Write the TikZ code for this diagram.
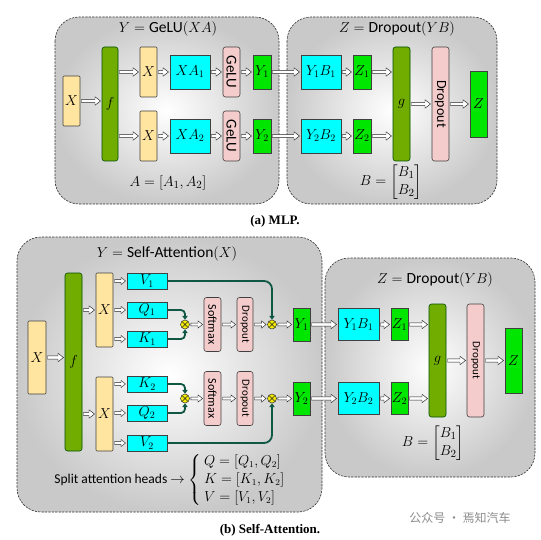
\documentclass[tikz,border=0pt]{standalone}
\usepackage{amsmath}
\usepackage{graphicx}
\usepackage[no-math]{fontspec}
\setmainfont{Carlito}
\newfontfamily\capfont{Liberation Serif}
\newfontfamily\cjk{Noto Sans CJK SC}
\usetikzlibrary{calc,arrows.meta}
\definecolor{xfill}{RGB}{255,229,160}
\definecolor{ffill}{RGB}{112,173,0}
\definecolor{cfill}{RGB}{0,255,255}
\definecolor{pfill}{RGB}{244,204,204}
\definecolor{yfill}{RGB}{0,230,0}
\definecolor{tconn}{RGB}{16,88,68}
\definecolor{mfill}{RGB}{245,235,0}
\tikzset{
  box/.style={draw=black!75, line width=0.6pt, inner sep=0pt, font=\fontsize{14.5}{16}\selectfont},
  xb/.style={box, fill=xfill, rounded corners=1pt},
  fb/.style={box, fill=ffill, draw=black!70!green, rounded corners=2.5pt},
  cb/.style={box, fill=cfill},
  pb/.style={box, fill=pfill, rounded corners=2.5pt},
  gb/.style={box, fill=yfill},
  panel/.style={draw=black!80, dashed, dash pattern=on 2.2pt off 1.2pt, line width=0.6pt, rounded corners=24pt, inner color=white, outer color=black!21},
  ttl/.style={inner sep=0pt, font=\fontsize{15.5}{18}\selectfont},
  harrow/.style n args={3}{draw=black!85, fill=white, line width=0.45pt,
    to path={let \p1=(\tikztostart), \p2=(\tikztotarget) in
      (\x1+1.2pt,\y1+#1) -- (\x2-#3-1.2pt,\y1+#1) -- (\x2-#3-1.2pt,\y1+#2) -- (\x2-1.2pt,\y1)
      -- (\x2-#3-1.2pt,\y1-#2) -- (\x2-#3-1.2pt,\y1-#1) -- (\x1+1.2pt,\y1-#1) -- cycle}},
  ha/.style={harrow={1.6pt}{4.2pt}{5.5pt}},
  hb/.style={harrow={1.3pt}{3.6pt}{4.5pt}},
  tc/.style={draw=tconn, line width=1.8pt, -{Triangle[length=3.8pt,width=5.2pt]}},
  mult/.style={circle, draw=black!80, fill=mfill, minimum size=9pt, inner sep=0pt, line width=0.5pt,
    path picture={\draw[line width=0.6pt, black!85]
      ([shift={(-3.2pt,-3.2pt)}]path picture bounding box.center) -- ([shift={(3.2pt,3.2pt)}]path picture bounding box.center)
      ([shift={(-3.2pt,3.2pt)}]path picture bounding box.center) -- ([shift={(3.2pt,-3.2pt)}]path picture bounding box.center);}},
  captext/.style={inner sep=0pt, font=\capfont\bfseries\fontsize{13}{15}\selectfont},
  sb/.style={font=\fontsize{14}{15}\selectfont},
}
\begin{document}
\begin{tikzpicture}[x=1pt,y=-1pt]
\useasboundingbox (0,0) rectangle (540,540);
\fill[white] (0,0) rectangle (540,540);
% ===== (a) MLP =====
\shadedraw[panel] (55,17) rectangle (279,204);
\shadedraw[panel] (287,17) rectangle (497,204);
\node[ttl] (ta1) at (168,29) {$Y=\text{GeLU}(XA)$};
\node[ttl] (ta2) at (168,183) {$A=[A_1,A_2]$};
\node[ttl] (ta3) at (397,29) {$Z=\text{Dropout}(YB)$};
\node[ttl] (ta4) at (391,182) {$B=\begin{bmatrix}B_1\\B_2\end{bmatrix}$};

\node[xb, minimum width=17pt, minimum height=50pt] (ax0) at (71.5,101) {$X$};
\node[fb, minimum width=16pt, minimum height=114pt] (af) at (110,104) {$f$};
\node[xb, minimum width=17pt, minimum height=50pt] (ax1) at (148.5,72) {$X$};
\node[xb, minimum width=17pt, minimum height=50pt] (ax2) at (148.5,136) {$X$};
\node[cb, minimum width=40pt, minimum height=34pt] (axa1) at (190,72) {$XA_1$};
\node[cb, minimum width=40pt, minimum height=34pt] (axa2) at (190,136) {$XA_2$};
\node[pb, minimum width=17pt, minimum height=50pt, font=\fontsize{15}{17}\selectfont] (agl1) at (231.5,72) {\rotatebox{-90}{GeLU}};
\node[pb, minimum width=17pt, minimum height=50pt, font=\fontsize{15}{17}\selectfont] (agl2) at (231.5,136) {\rotatebox{-90}{GeLU}};
\node[gb, minimum width=18pt, minimum height=34pt] (ay1) at (262,72) {$Y_1$};
\node[gb, minimum width=18pt, minimum height=34pt] (ay2) at (262,136) {$Y_2$};
\node[cb, minimum width=40pt, minimum height=34pt] (ayb1) at (321,72) {$Y_1B_1$};
\node[cb, minimum width=40pt, minimum height=34pt] (ayb2) at (321,136) {$Y_2B_2$};
\node[gb, minimum width=18pt, minimum height=34pt] (az1) at (362,72) {$Z_1$};
\node[gb, minimum width=18pt, minimum height=34pt] (az2) at (362,136) {$Z_2$};
\node[fb, minimum width=17pt, minimum height=114pt] (ag) at (401.5,104) {$g$};
\node[pb, minimum width=17pt, minimum height=114pt, font=\fontsize{14}{16}\selectfont] (adr) at (440.5,104) {\rotatebox{-90}{Dropout}};
\node[gb, minimum width=17pt, minimum height=66pt] (az) at (478.5,104) {$Z$};

\draw[ha] (ax0.east) to (af.west);
\draw[ha] (af.east |- ax1) to (ax1.west);
\draw[ha] (af.east |- ax2) to (ax2.west);
\draw[ha] (ax1.east) to (axa1.west);
\draw[ha] (ax2.east) to (axa2.west);
\draw[ha] (axa1.east) to (agl1.west);
\draw[ha] (axa2.east) to (agl2.west);
\draw[ha] (agl1.east) to (ay1.west);
\draw[ha] (agl2.east) to (ay2.west);
\draw[ha] (ay1.east) to (ayb1.west);
\draw[ha] (ay2.east) to (ayb2.west);
\draw[ha] (ayb1.east) to (az1.west);
\draw[ha] (ayb2.east) to (az2.west);
\draw[ha] (az1.east) to (ag.west);
\draw[ha] (az2.east) to (ag.west);
\draw[ha] (ag.east) to (adr.west);
\draw[ha] (adr.east) to (az.west);

\node[captext] (capa) at (275,221) {(a) MLP.};

% ===== (b) Self-Attention =====
\shadedraw[panel] (17,237) rectangle (322,512);
\shadedraw[panel] (325,258) rectangle (535,477);
\node[ttl] (tb1) at (167,254) {$Y=\text{Self-Attention}(X)$};
\node[ttl] (tb3) at (435,280) {$Z=\text{Dropout}(YB)$};
\node[ttl] (tb4) at (433,443) {$B=\begin{bmatrix}B_1\\B_2\end{bmatrix}$};

\node[xb, minimum width=18pt, minimum height=73pt] (bx0) at (37,357.5) {$X$};
\node[fb, minimum width=17pt, minimum height=178pt] (bf) at (73.5,362) {$f$};
\node[xb, minimum width=17pt, minimum height=74pt] (bx1) at (104.5,310) {$X$};
\node[xb, minimum width=17pt, minimum height=74pt] (bx2) at (104.5,414) {$X$};
\node[cb, sb, minimum width=40pt, minimum height=16pt] (bv1) at (147,281) {$V_1$};
\node[cb, sb, minimum width=40pt, minimum height=16pt] (bq1) at (147,310) {$Q_1$};
\node[cb, sb, minimum width=40pt, minimum height=16pt] (bk1) at (147,339) {$K_1$};
\node[cb, sb, minimum width=40pt, minimum height=16pt] (bk2) at (147,384) {$K_2$};
\node[cb, sb, minimum width=40pt, minimum height=16pt] (bq2) at (147,413) {$Q_2$};
\node[cb, sb, minimum width=40pt, minimum height=16pt] (bv2) at (147,443) {$V_2$};
\node[mult] (m1) at (185,324.5) {};
\node[mult] (m3) at (185,398.5) {};
\node[pb, minimum width=17pt, minimum height=54pt, font=\fontsize{12}{14}\selectfont] (bsm1) at (212.5,324.5) {\rotatebox{-90}{Softmax}};
\node[pb, minimum width=17pt, minimum height=54pt, font=\fontsize{12}{14}\selectfont] (bsm2) at (212.5,398.5) {\rotatebox{-90}{Softmax}};
\node[pb, minimum width=16pt, minimum height=54pt, font=\fontsize{11}{13}\selectfont] (bdr1) at (245,324.5) {\rotatebox{-90}{Dropout}};
\node[pb, minimum width=16pt, minimum height=54pt, font=\fontsize{11}{13}\selectfont] (bdr2) at (245,398.5) {\rotatebox{-90}{Dropout}};
\node[mult] (m2) at (272,324.5) {};
\node[mult] (m4) at (272,398.5) {};
\node[gb, minimum width=17pt, minimum height=33pt] (by1) at (301.5,324.5) {$Y_1$};
\node[gb, minimum width=17pt, minimum height=33pt] (by2) at (301.5,398.5) {$Y_2$};
\node[cb, minimum width=41pt, minimum height=32pt] (byb1) at (358.5,324.5) {$Y_1B_1$};
\node[cb, minimum width=41pt, minimum height=32pt] (byb2) at (358.5,398.5) {$Y_2B_2$};
\node[gb, minimum width=17pt, minimum height=32pt] (bz1) at (399.5,324.5) {$Z_1$};
\node[gb, minimum width=17pt, minimum height=32pt] (bz2) at (399.5,398.5) {$Z_2$};
\node[fb, minimum width=17pt, minimum height=113pt] (bg) at (437.5,360.5) {$g$};
\node[pb, minimum width=17pt, minimum height=113pt, font=\fontsize{11}{13}\selectfont] (bdr) at (475.5,360.5) {\rotatebox{-90}{Dropout}};
\node[gb, minimum width=17pt, minimum height=65pt] (bz) at (513.5,360.5) {$Z$};

\draw[ha] (bx0.east) to (bf.west);
\draw[ha] (bf.east |- bx1) to (bx1.west);
\draw[ha] (bf.east |- bx2) to (bx2.west);
\draw[hb] (bx1.east |- bv1) to (bv1.west);
\draw[hb] (bx1.east |- bq1) to (bq1.west);
\draw[hb] (bx1.east |- bk1) to (bk1.west);
\draw[hb] (bx2.east |- bk2) to (bk2.west);
\draw[hb] (bx2.east |- bq2) to (bq2.west);
\draw[hb] (bx2.east |- bv2) to (bv2.west);
\draw[hb] (m1.east) to (bsm1.west);
\draw[hb] (m3.east) to (bsm2.west);
\draw[hb] (bsm1.east) to (bdr1.west);
\draw[hb] (bsm2.east) to (bdr2.west);
\draw[hb] (bdr1.east) to (m2.west);
\draw[hb] (bdr2.east) to (m4.west);
\draw[hb] (m2.east) to (by1.west);
\draw[hb] (m4.east) to (by2.west);
\draw[ha] (by1.east) to (byb1.west);
\draw[ha] (by2.east) to (byb2.west);
\draw[ha] (byb1.east) to (bz1.west);
\draw[ha] (byb2.east) to (bz2.west);
\draw[ha] (bz1.east) to (bg.west);
\draw[ha] (bz2.east) to (bg.west);
\draw[ha] (bg.east) to (bdr.west);
\draw[ha] (bdr.east) to (bz.west);

\draw[tc, rounded corners=4pt] (bq1.east) -| (m1.north);
\draw[tc, rounded corners=4pt] (bk1.east) -| (m1.south);
\draw[tc, rounded corners=4pt] (bk2.east) -| (m3.north);
\draw[tc, rounded corners=4pt] (bq2.east) -| (m3.south);
\draw[tc, rounded corners=8pt] (bv1.east) -| (m2.north);
\draw[tc, rounded corners=8pt] (bv2.east) -| (m4.south);

\node[inner sep=0pt, font=\fontsize{13.5}{15}\selectfont] (split) at (170,480)
  {Split attention heads $\rightarrow\renewcommand\arraystretch{1.2}\left\{\,\begin{array}{@{}l@{}}Q=[Q_1,Q_2]\\K=[K_1,K_2]\\V=[V_1,V_2]\end{array}\right.$};

\node[captext] (capb) at (270,530) {(b) Self-Attention.};
\node[inner sep=0pt, text=black!45, font=\cjk\fontsize{12}{14}\selectfont] (wm) at (460,518) {公众号 · 焉知汽车};
\end{tikzpicture}
\end{document}
